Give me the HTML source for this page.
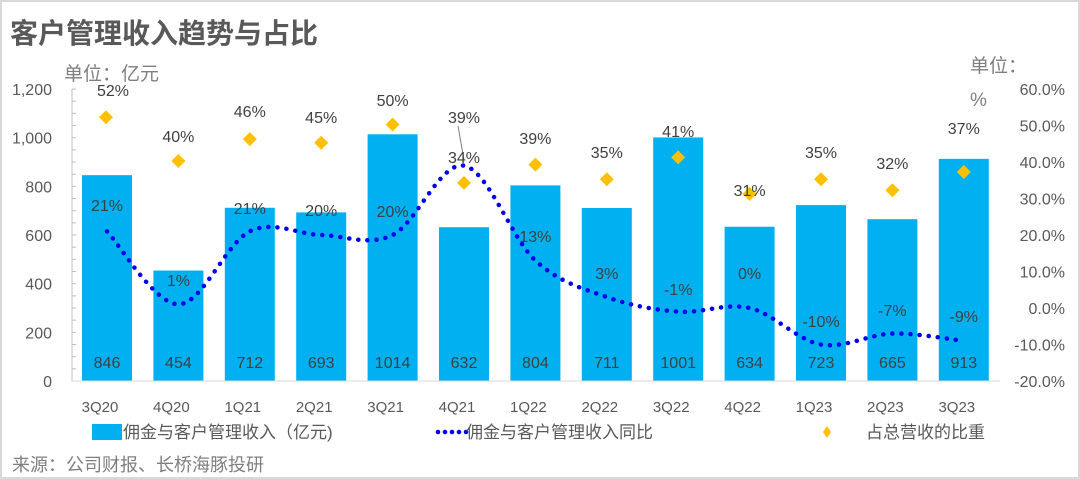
<!DOCTYPE html>
<html><head><meta charset="utf-8"><style>
html,body{margin:0;padding:0;background:#fff}
svg{display:block;font-family:"Liberation Sans","Noto Sans CJK SC",sans-serif}
</style></head><body>
<svg id="s" width="1080" height="479" viewBox="0 0 1080 479" xmlns="http://www.w3.org/2000/svg">
<rect x="1" y="1" width="1078" height="477" fill="#fff" stroke="#d9d9d9" stroke-width="2"/>
<text x="10" y="43" font-size="28" font-weight="bold" fill="#595959">客户管理收入趋势与占比</text>
<text x="64" y="80" font-size="19" fill="#7f7f7f">单位：亿元</text>
<text x="970" y="72" font-size="19" fill="#7f7f7f">单位：</text>
<text x="970" y="106" font-size="19" fill="#7f7f7f">%</text>
<text x="12" y="471" font-size="18" fill="#7f7f7f">来源：公司财报、长桥海豚投研</text>
<g id="g"></g>
</svg>
<script>
var g=document.getElementById('g'),h='';
var bars=[846,454,712,693,1014,632,804,711,1001,634,723,665,913];
var yoy=[21,1,21,20,20,39,13,3,-1,0,-10,-7,-9];
var sh=[52,40,46,45,50,34,39,35,41,31,35,32,37];
var cats=['3Q20','4Q20','1Q21','2Q21','3Q21','4Q21','1Q22','2Q22','3Q22','4Q22','1Q23','2Q23','3Q23'];
function cx(i){return 107+i*71.4}
function yl(v){return 381-v*0.2433}
function yr(p){return 308-p*3.65}
h+='<line x1="72" y1="89" x2="72" y2="381" stroke="#bfbfbf"/>';
for(var v=0;v<=1200;v+=200){var y=yl(v);h+='<text x="52" y="'+(y+6)+'" font-size="16" fill="#595959" text-anchor="end">'+(v>=1000?(v/1000|0)+','+String(v%1000).padStart(3,'0'):v)+'</text>';}
for(var v=0;v<=1200;v+=50){var y=yl(v);h+='<line x1="72" y1="'+y+'" x2="76" y2="'+y+'" stroke="#bfbfbf"/>';}
for(var p=60;p>=-20;p-=10){h+='<text x="1065" y="'+(yr(p)+6)+'" font-size="16" fill="#595959" text-anchor="end">'+p.toFixed(1)+'%</text>';}
for(var i=0;i<13;i++){var x=cx(i),y=yl(bars[i]);
h+='<rect x="'+(x-25)+'" y="'+y+'" width="50" height="'+(381-y)+'" fill="#00b0f0"/>';
h+='<text x="'+x+'" y="368" font-size="16" fill="#404040" text-anchor="middle">'+bars[i]+'</text>';
h+='<text x="'+(x-7)+'" y="412" font-size="15" fill="#595959" text-anchor="middle">'+cats[i]+'</text>';}
h+='<line x1="72" y1="381" x2="1000" y2="381" stroke="#d9d9d9"/>';
var P=yoy.map(function(p,i){return [cx(i),yr(p)]});
var d='M'+P[0][0]+','+P[0][1];
for(var i=0;i<12;i++){var p0=P[Math.max(i-1,0)],p1=P[i],p2=P[i+1],p3=P[Math.min(i+2,12)];
d+=' C'+(p1[0]+(p2[0]-p0[0])/6)+','+(p1[1]+(p2[1]-p0[1])/6)+' '+(p2[0]-(p3[0]-p1[0])/6)+','+(p2[1]-(p3[1]-p1[1])/6)+' '+p2[0]+','+p2[1];}
h+='<path d="'+d+'" fill="none" stroke="#0000ee" stroke-width="4.5" stroke-dasharray="0.1 9" stroke-linecap="round"/>';
var ly=[205,280,208,210,211,117,236,273,289,273,321,310,316];
for(var i=0;i<13;i++){h+='<text x="'+cx(i)+'" y="'+(ly[i]+6)+'" font-size="16" fill="#404040" text-anchor="middle">'+yoy[i]+'%</text>';}
h+='<line x1="458" y1="126" x2="464" y2="160" stroke="#7f7f7f"/>';
var sy=[90,136,111,117,100,157,138,152,131,190,152,163,128];
for(var i=0;i<13;i++){var x=cx(i)+(i==0?-1:0),y=yr(sh[i])-1;
h+='<polygon points="'+x+','+(y-7)+' '+(x+7)+','+y+' '+x+','+(y+7)+' '+(x-7)+','+y+'" fill="#ffc000"/>';
h+='<text x="'+(i==0?113:cx(i))+'" y="'+(sy[i]+6)+'" font-size="16" fill="#404040" text-anchor="middle">'+sh[i]+'%</text>';}
h+='<rect x="92" y="424" width="30" height="16" fill="#00b0f0"/><text x="123" y="438" font-size="17" fill="#595959">佣金与客户管理收入（亿元)</text>';
for(var k=0;k<5;k++)h+='<circle cx="'+(438+k*7)+'" cy="432" r="2.3" fill="#0000ee"/>';
h+='<text x="466" y="438" font-size="17" fill="#595959">佣金与客户管理收入同比</text>';
h+='<polygon points="827,426 831,432 827,438 823,432" fill="#ffc000"/><text x="866" y="438" font-size="17" fill="#595959">占总营收的比重</text>';
g.innerHTML=h;
</script>
</body></html>
